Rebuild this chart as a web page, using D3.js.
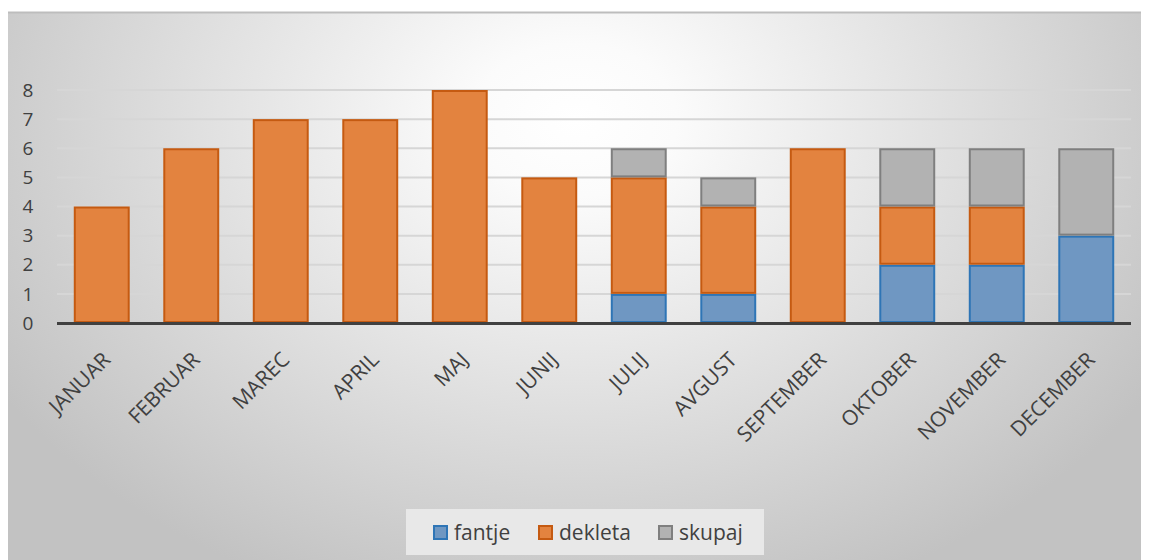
<!DOCTYPE html>
<html>
<head>
<meta charset="utf-8">
<script src="https://cdn.jsdelivr.net/npm/d3@7"></script>
<style>
  body { margin: 0; background: #fff; }
  svg { display: block; font-family: "Open Sans", "Noto Sans", sans-serif; }
</style>
</head>
<body>
<script>
// months and values
var months = ["JANUAR", "FEBRUAR", "MAREC", "APRIL", "MAJ", "JUNIJ", "JULIJ", "AVGUST", "SEPTEMBER", "OKTOBER", "NOVEMBER", "DECEMBER"];
var fantje  = [0, 0, 0, 0, 0, 0, 1, 1, 0, 2, 2, 3];
var dekleta = [4, 6, 7, 7, 8, 5, 4, 3, 6, 2, 2, 0];
var skupaj  = [0, 0, 0, 0, 0, 0, 1, 1, 0, 2, 2, 3];
var seriesNames = ["fantje", "dekleta", "skupaj"];
var yTicks = [0, 1, 2, 3, 4, 5, 6, 7, 8];

var fills   = ["#6f97c2", "#e3833f", "#b2b2b2"];
var strokes = ["#2e75b6", "#c55a11", "#7f7f7f"];

var W = 1149, H = 560;
var svg = d3.select("body").append("svg").attr("width", W).attr("height", H);

// background gradient like the excel chart area
var defs = svg.append("defs");
var grad = defs.append("radialGradient").attr("id", "bg")
    .attr("gradientUnits", "userSpaceOnUse")
    .attr("cx", 575).attr("cy", 120).attr("r", 680)
    .attr("gradientTransform", "translate(575,120) scale(1,0.75) translate(-575,-120)");
grad.append("stop").attr("offset", "0").attr("stop-color", "#ffffff");
grad.append("stop").attr("offset", "0.15").attr("stop-color", "#fbfbfb");
grad.append("stop").attr("offset", "1").attr("stop-color", "#c2c2c2");

svg.append("rect").attr("x", 8).attr("y", 12).attr("width", 1133).attr("height", 548)
    .attr("fill", "url(#bg)");
svg.append("line").attr("x1", 8).attr("x2", 1141).attr("y1", 12.5).attr("y2", 12.5)
    .attr("stroke", "#bdbdbd").attr("stroke-width", 2);

var x = d3.scaleBand().domain(months).range([57, 1131]).paddingInner(0.375).paddingOuter(0.1875);
var y = d3.scaleLinear().domain([0, 8]).range([323, 90]);

// gridlines
svg.append("g").selectAll("line").data(yTicks.slice(1)).join("line")
    .attr("x1", 57).attr("x2", 1131)
    .attr("y1", d => y(d)).attr("y2", d => y(d))
    .attr("stroke", "#d6d6d6").attr("stroke-width", 2);

// y labels
svg.append("g").selectAll("text").data(yTicks).join("text")
    .attr("x", 28).attr("y", d => y(d)).attr("dy", "0.35em")
    .attr("text-anchor", "middle")
    .attr("font-size", 19).attr("fill", "#404040")
    .text(d => d);

// stack
var rows = months.map((m, i) => ({ month: m, fantje: fantje[i], dekleta: dekleta[i], skupaj: skupaj[i] }));
var stacked = d3.stack().keys(seriesNames)(rows);

stacked.forEach(function(layer, k) {
  svg.append("g").selectAll("rect").data(layer.filter(d => d[1] > d[0])).join("rect")
      .attr("x", d => x(d.data.month) + 1)
      .attr("width", x.bandwidth() - 2)
      .attr("y", d => y(d[1]) + 1)
      .attr("height", d => y(d[0]) - y(d[1]) - 2)
      .attr("fill", fills[k])
      .attr("stroke", strokes[k]).attr("stroke-width", 2);
});

// x axis line
svg.append("line").attr("x1", 57).attr("x2", 1131).attr("y1", 323.5).attr("y2", 323.5)
    .attr("stroke", "#404040").attr("stroke-width", 3);

// x labels rotated
svg.append("g").selectAll("text").data(months).join("text")
    .attr("transform", d => "translate(" + (x(d) + x.bandwidth() / 2 + 10) + ",361) rotate(-45)")
    .attr("text-anchor", "end")
    .attr("font-size", 21).attr("fill", "#404040")
    .text(d => d);

// legend
var lg = svg.append("g");
lg.append("rect").attr("x", 406).attr("y", 509).attr("width", 358).attr("height", 46)
    .attr("fill", "#e8e8e8");
var legX = [434, 539, 659];
seriesNames.forEach(function(n, k) {
  lg.append("rect").attr("x", legX[k]).attr("y", 526).attr("width", 13).attr("height", 13)
      .attr("fill", fills[k]).attr("stroke", strokes[k]).attr("stroke-width", 2);
  lg.append("text").attr("x", legX[k] + 20).attr("y", 532.5).attr("dy", "0.35em")
      .attr("font-size", 21).attr("fill", "#404040").text(n);
});
</script>
</body>
</html>
